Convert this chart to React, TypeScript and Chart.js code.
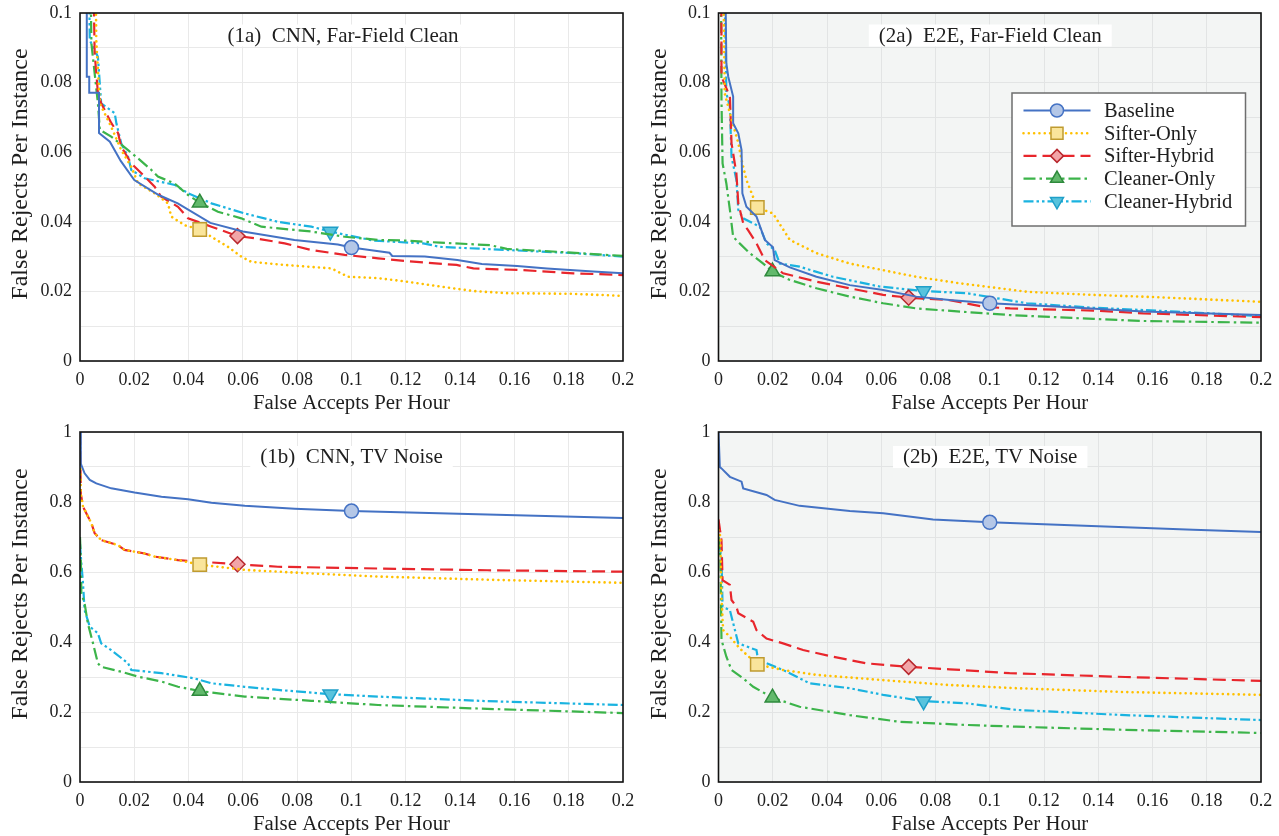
import React, { useEffect, useRef } from 'react';
import { Chart, registerables } from 'chart.js';

Chart.register(...registerables);

// ---------------- tick labels & names ----------------
const seriesNames = ['Baseline', 'Sifter-Only', 'Sifter-Hybrid', 'Cleaner-Only', 'Cleaner-Hybrid'];
const xTickLabels = ['0', '0.02', '0.04', '0.06', '0.08', '0.1', '0.12', '0.14', '0.16', '0.18', '0.2'];
const yTickLabelsFar = ['0', '0.02', '0.04', '0.06', '0.08', '0.1'];
const yTickLabelsTV = ['0', '0.2', '0.4', '0.6', '0.8', '1'];
const panelTitles = ['(1a)  CNN, Far-Field Clean', '(2a)  E2E, Far-Field Clean', '(1b)  CNN, TV Noise', '(2b)  E2E, TV Noise'];
const xAxisTitle = 'False Accepts Per Hour';
const yAxisTitle = 'False Rejects Per Instance';

// ---------------- (1a) CNN, Far-Field Clean ----------------
const cnnFarBaselineX = [0.0025, 0.0025, 0.0034, 0.0034, 0.007, 0.007, 0.011, 0.015, 0.02, 0.029, 0.036, 0.048, 0.06, 0.079, 0.095, 0.1, 0.106, 0.114, 0.115, 0.127, 0.139, 0.148, 0.161, 0.172, 0.189, 0.2];
const cnnFarBaselineY = [0.13, 0.0817, 0.0817, 0.0771, 0.0771, 0.0655, 0.063, 0.0575, 0.052, 0.0477, 0.0453, 0.0397, 0.0372, 0.0348, 0.0335, 0.0326, 0.032, 0.0311, 0.0302, 0.03, 0.029, 0.0279, 0.0273, 0.0266, 0.0257, 0.0252];
const cnnFarSifterOnlyX = [0.0055, 0.006, 0.0073, 0.0115, 0.0152, 0.0189, 0.0214, 0.0275, 0.0324, 0.0336, 0.0386, 0.0441, 0.0484, 0.0545, 0.0594, 0.0631, 0.0754, 0.0926, 0.0987, 0.1098, 0.1203, 0.1326, 0.1449, 0.1572, 0.1816, 0.2];
const cnnFarSifterOnlyY = [0.13, 0.092, 0.074, 0.0673, 0.0606, 0.0558, 0.051, 0.0482, 0.0453, 0.0415, 0.039, 0.0378, 0.0357, 0.0328, 0.03, 0.0285, 0.0276, 0.0266, 0.0242, 0.0238, 0.0228, 0.0214, 0.0201, 0.0195, 0.0193, 0.0187];
const cnnFarSifterHybridX = [0.0045, 0.0054, 0.0066, 0.0078, 0.0115, 0.014, 0.0152, 0.0189, 0.0238, 0.0275, 0.0299, 0.0361, 0.0398, 0.0484, 0.058, 0.0643, 0.0754, 0.0852, 0.0975, 0.1098, 0.1203, 0.1387, 0.1449, 0.1633, 0.1817, 0.2];
const cnnFarSifterHybridY = [0.13, 0.0885, 0.077, 0.0741, 0.0684, 0.0655, 0.0616, 0.0568, 0.053, 0.0501, 0.0472, 0.0443, 0.041, 0.0386, 0.0359, 0.0353, 0.0338, 0.0319, 0.0305, 0.0295, 0.0287, 0.0276, 0.0266, 0.0261, 0.0252, 0.0247];
const cnnFarCleanerOnlyX = [0.0035, 0.0042, 0.0066, 0.0073, 0.0115, 0.0177, 0.0214, 0.0263, 0.0287, 0.0349, 0.0398, 0.0441, 0.0508, 0.0594, 0.0668, 0.0852, 0.0975, 0.1098, 0.1203, 0.1326, 0.151, 0.1572, 0.1756, 0.2];
const cnnFarCleanerOnlyY = [0.13, 0.0913, 0.074, 0.0664, 0.0645, 0.0606, 0.0582, 0.0549, 0.053, 0.051, 0.0477, 0.0455, 0.0429, 0.041, 0.0386, 0.0372, 0.0357, 0.0348, 0.0346, 0.034, 0.0333, 0.0322, 0.0314, 0.0302];
const cnnFarCleanerHybridX = [0.003, 0.0036, 0.0066, 0.0078, 0.0128, 0.0134, 0.0152, 0.0177, 0.0189, 0.0238, 0.0349, 0.0398, 0.0484, 0.0607, 0.0729, 0.0852, 0.0922, 0.108, 0.1264, 0.1326, 0.1572, 0.1817, 0.2];
const cnnFarCleanerHybridY = [0.13, 0.0922, 0.0874, 0.074, 0.0712, 0.0683, 0.0625, 0.0587, 0.0549, 0.0525, 0.0506, 0.0482, 0.0453, 0.0424, 0.04, 0.0386, 0.0372, 0.0346, 0.0338, 0.0328, 0.0319, 0.031, 0.03];
const cnnFarMarkerIndex = [15, 11, 14, 11, 16];

// ---------------- (2a) E2E, Far-Field Clean ----------------
const e2eFarBaselineX = [0.0022, 0.0029, 0.0036, 0.0054, 0.0054, 0.0073, 0.0085, 0.0088, 0.0103, 0.014, 0.0158, 0.0171, 0.0201, 0.0207, 0.0263, 0.0361, 0.0484, 0.0607, 0.0729, 0.0852, 0.1, 0.126, 0.1566, 0.2];
const e2eFarBaselineY = [0.13, 0.0855, 0.0817, 0.076, 0.0683, 0.0654, 0.0606, 0.0482, 0.0443, 0.0415, 0.0376, 0.0348, 0.0327, 0.029, 0.0269, 0.0242, 0.0218, 0.0204, 0.0185, 0.0175, 0.0166, 0.0156, 0.0142, 0.0132];
const e2eFarSifterOnlyX = [0.0015, 0.0023, 0.0042, 0.0073, 0.0085, 0.0103, 0.0143, 0.0201, 0.0263, 0.0361, 0.0484, 0.0607, 0.0729, 0.0891, 0.1137, 0.1382, 0.1628, 0.2];
const e2eFarSifterOnlyY = [0.13, 0.0769, 0.0712, 0.0626, 0.0578, 0.052, 0.0441, 0.0424, 0.0348, 0.031, 0.028, 0.0261, 0.0242, 0.0223, 0.0199, 0.019, 0.0183, 0.017];
const e2eFarSifterHybridX = [0.001, 0.0011, 0.0042, 0.0048, 0.0066, 0.0073, 0.0091, 0.0109, 0.014, 0.0171, 0.0238, 0.0361, 0.0484, 0.0607, 0.0701, 0.0852, 0.0975, 0.1075, 0.1382, 0.1566, 0.2];
const e2eFarSifterHybridY = [0.13, 0.0817, 0.076, 0.0626, 0.0539, 0.0453, 0.0396, 0.0376, 0.0338, 0.029, 0.0252, 0.0228, 0.0209, 0.019, 0.0182, 0.0175, 0.0156, 0.0151, 0.0145, 0.0137, 0.0126];
const e2eFarCleanerOnlyX = [0.0008, 0.0011, 0.0015, 0.0029, 0.0042, 0.0054, 0.0078, 0.0115, 0.0165, 0.0199, 0.0263, 0.0361, 0.0484, 0.0607, 0.0729, 0.0891, 0.1075, 0.1382, 0.1566, 0.2];
const e2eFarCleanerOnlyY = [0.13, 0.075, 0.0568, 0.051, 0.0434, 0.0357, 0.0338, 0.031, 0.028, 0.0257, 0.0233, 0.0209, 0.0185, 0.0166, 0.0151, 0.0142, 0.0132, 0.0121, 0.0115, 0.011];
const e2eFarCleanerHybridX = [0.0018, 0.0029, 0.0042, 0.0048, 0.0066, 0.0073, 0.0091, 0.0152, 0.0177, 0.0207, 0.0226, 0.0299, 0.0422, 0.0594, 0.0756, 0.0913, 0.1137, 0.1382, 0.1689, 0.2];
const e2eFarCleanerHybridY = [0.13, 0.0769, 0.0731, 0.0587, 0.052, 0.0434, 0.041, 0.0386, 0.0338, 0.0319, 0.028, 0.0271, 0.0242, 0.0214, 0.0201, 0.0195, 0.0166, 0.0153, 0.0142, 0.0129];
const e2eFarMarkerIndex = [20, 6, 14, 9, 14];

// ---------------- (1b) CNN, TV Noise ----------------
const cnnTvBaselineX = [0, 0.0003, 0.0005, 0.0017, 0.0036, 0.006, 0.0115, 0.0201, 0.03, 0.0398, 0.0484, 0.0607, 0.0791, 0.1, 0.125, 0.15, 0.175, 0.2];
const cnnTvBaselineY = [1, 0.91, 0.905, 0.882, 0.863, 0.853, 0.839, 0.827, 0.815, 0.808, 0.798, 0.789, 0.781, 0.774, 0.769, 0.764, 0.759, 0.754];
const cnnTvSifterOnlyX = [0, 0.0003, 0.0005, 0.0011, 0.0042, 0.0054, 0.0078, 0.014, 0.0164, 0.0238, 0.0275, 0.0361, 0.0441, 0.0607, 0.0852, 0.1098, 0.15, 0.2];
const cnnTvSifterOnlyY = [1, 0.82, 0.815, 0.787, 0.739, 0.711, 0.691, 0.677, 0.663, 0.653, 0.644, 0.634, 0.621, 0.606, 0.596, 0.587, 0.578, 0.569];
const cnnTvSifterHybridX = [0, 0.0003, 0.0005, 0.0011, 0.0042, 0.0054, 0.0078, 0.014, 0.0164, 0.0238, 0.0275, 0.0361, 0.058, 0.0729, 0.1098, 0.15, 0.2];
const cnnTvSifterHybridY = [1, 0.82, 0.815, 0.787, 0.739, 0.711, 0.691, 0.677, 0.663, 0.653, 0.644, 0.634, 0.622, 0.615, 0.61, 0.605, 0.601];
const cnnTvCleanerOnlyX = [0, 0.0003, 0.0005, 0.0017, 0.0029, 0.0048, 0.0066, 0.0078, 0.0152, 0.0214, 0.03, 0.0361, 0.0441, 0.0607, 0.0852, 0.1098, 0.15, 0.2];
const cnnTvCleanerOnlyY = [0.7, 0.64, 0.539, 0.51, 0.453, 0.396, 0.339, 0.329, 0.315, 0.301, 0.287, 0.272, 0.26, 0.244, 0.232, 0.22, 0.209, 0.197];
const cnnTvCleanerHybridX = [0, 0.0005, 0.0011, 0.0017, 0.0036, 0.0066, 0.0078, 0.0115, 0.0177, 0.0189, 0.03, 0.0422, 0.0484, 0.0607, 0.0729, 0.0922, 0.1098, 0.15, 0.2];
const cnnTvCleanerHybridY = [0.68, 0.625, 0.568, 0.491, 0.444, 0.425, 0.396, 0.377, 0.339, 0.32, 0.311, 0.296, 0.282, 0.272, 0.263, 0.251, 0.244, 0.231, 0.22];
const cnnTvMarkerIndex = [13, 12, 12, 12, 15];

// ---------------- (2b) E2E, TV Noise ----------------
const e2eTvBaselineX = [0, 0.0005, 0.0011, 0.0042, 0.0085, 0.0091, 0.0177, 0.0207, 0.0299, 0.0484, 0.0607, 0.0791, 0.1, 0.125, 0.15, 0.175, 0.2];
const e2eTvBaselineY = [1, 0.9, 0.896, 0.872, 0.858, 0.839, 0.82, 0.806, 0.789, 0.774, 0.768, 0.75, 0.742, 0.735, 0.728, 0.721, 0.714];
const e2eTvSifterOnlyX = [0, 0.0007, 0.0011, 0.0017, 0.0042, 0.0078, 0.0143, 0.0238, 0.0361, 0.0607, 0.0852, 0.1098, 0.15, 0.2];
const e2eTvSifterOnlyY = [0.72, 0.701, 0.53, 0.434, 0.415, 0.382, 0.336, 0.32, 0.306, 0.291, 0.277, 0.268, 0.257, 0.249];
const e2eTvSifterHybridX = [0, 0.0011, 0.0015, 0.0042, 0.0048, 0.0066, 0.0073, 0.0128, 0.014, 0.0177, 0.0238, 0.0312, 0.0422, 0.0545, 0.0701, 0.0852, 0.1073, 0.15, 0.2];
const e2eTvSifterHybridY = [0.75, 0.691, 0.577, 0.563, 0.52, 0.501, 0.482, 0.458, 0.434, 0.41, 0.396, 0.377, 0.358, 0.339, 0.329, 0.322, 0.311, 0.3, 0.289];
const e2eTvCleanerOnlyX = [0, 0.0007, 0.0011, 0.0029, 0.0048, 0.0091, 0.0128, 0.0199, 0.0299, 0.0484, 0.0668, 0.0913, 0.1098, 0.15, 0.2];
const e2eTvCleanerOnlyY = [0.7, 0.644, 0.406, 0.358, 0.32, 0.296, 0.272, 0.241, 0.215, 0.191, 0.172, 0.163, 0.158, 0.149, 0.14];
const e2eTvCleanerHybridX = [0, 0.0011, 0.0015, 0.0042, 0.0073, 0.014, 0.0146, 0.0238, 0.0336, 0.0484, 0.0607, 0.0756, 0.0913, 0.1098, 0.15, 0.2];
const e2eTvCleanerHybridY = [0.68, 0.644, 0.501, 0.491, 0.396, 0.377, 0.349, 0.32, 0.282, 0.268, 0.249, 0.231, 0.225, 0.206, 0.191, 0.177];
const e2eTvMarkerIndex = [12, 6, 14, 7, 11];

// ---------------- styles ----------------
type SeriesStyle = {
  color: string; dash: number[]; cap: CanvasLineCap; width: number;
  marker: string; rotation: number; radius: number; legendRadius: number; fill: string; stroke: string;
};
const seriesStyles: SeriesStyle[] = [
  { color: '#4472c4', dash: [], cap: 'butt', width: 2, marker: 'circle', rotation: 0, radius: 7, legendRadius: 6.5, fill: '#b4c7e7', stroke: '#4472c4' },
  { color: '#ffc000', dash: [0.01, 5.3], cap: 'round', width: 2.6, marker: 'rect', rotation: 0, radius: 9.5, legendRadius: 8.5, fill: '#fae59b', stroke: '#bf9b30' },
  { color: '#e8262c', dash: [13, 6], cap: 'butt', width: 2.2, marker: 'rectRot', rotation: 0, radius: 7.5, legendRadius: 6.5, fill: '#f2a5a8', stroke: '#b8282e' },
  { color: '#3cb44a', dash: [12, 4, 2.5, 4], cap: 'butt', width: 2.2, marker: 'triangle', rotation: 0, radius: 8.5, legendRadius: 7.5, fill: '#62b96c', stroke: '#2e8a3c' },
  { color: '#1ab3e0', dash: [10, 3, 2.5, 3, 2.5, 3], cap: 'butt', width: 2.2, marker: 'triangle', rotation: 180, radius: 8.5, legendRadius: 7.5, fill: '#58c3dd', stroke: '#1f9fc8' },
];

const FONT = '"Liberation Serif", "Times New Roman", Times, serif';
const TEXT = '#1e1e1e';

type PanelSpec = {
  title: string;
  xs: number[][]; ys: number[][]; markers: number[];
  yMax: number; yStep: number; yLabels: string[];
  shaded: boolean; legend: boolean;
  titleDx: number; titleDy: number;
  pos: { left: number; top: number; w: number; h: number };
  area: { left: number; top: number; right: number; bottom: number };
};

const panels: PanelSpec[] = [
  {
    title: panelTitles[0],
    xs: [cnnFarBaselineX, cnnFarSifterOnlyX, cnnFarSifterHybridX, cnnFarCleanerOnlyX, cnnFarCleanerHybridX],
    ys: [cnnFarBaselineY, cnnFarSifterOnlyY, cnnFarSifterHybridY, cnnFarCleanerOnlyY, cnnFarCleanerHybridY],
    markers: cnnFarMarkerIndex, yMax: 0.1, yStep: 0.01, yLabels: yTickLabelsFar, shaded: false, legend: false,
    titleDx: -8.5, titleDy: 23,
    pos: { left: 0, top: 0, w: 640, h: 418 }, area: { left: 80, top: 13, right: 623, bottom: 361 },
  },
  {
    title: panelTitles[1],
    xs: [e2eFarBaselineX, e2eFarSifterOnlyX, e2eFarSifterHybridX, e2eFarCleanerOnlyX, e2eFarCleanerHybridX],
    ys: [e2eFarBaselineY, e2eFarSifterOnlyY, e2eFarSifterHybridY, e2eFarCleanerOnlyY, e2eFarCleanerHybridY],
    markers: e2eFarMarkerIndex, yMax: 0.1, yStep: 0.01, yLabels: yTickLabelsFar, shaded: true, legend: true,
    titleDx: 0.5, titleDy: 23,
    pos: { left: 640, top: 0, w: 639, h: 418 }, area: { left: 78.5, top: 13, right: 621, bottom: 361 },
  },
  {
    title: panelTitles[2],
    xs: [cnnTvBaselineX, cnnTvSifterOnlyX, cnnTvSifterHybridX, cnnTvCleanerOnlyX, cnnTvCleanerHybridX],
    ys: [cnnTvBaselineY, cnnTvSifterOnlyY, cnnTvSifterHybridY, cnnTvCleanerOnlyY, cnnTvCleanerHybridY],
    markers: cnnTvMarkerIndex, yMax: 1, yStep: 0.1, yLabels: yTickLabelsTV, shaded: false, legend: false,
    titleDx: 0, titleDy: 25.5,
    pos: { left: 0, top: 418, w: 640, h: 418 }, area: { left: 80, top: 14, right: 623, bottom: 364 },
  },
  {
    title: panelTitles[3],
    xs: [e2eTvBaselineX, e2eTvSifterOnlyX, e2eTvSifterHybridX, e2eTvCleanerOnlyX, e2eTvCleanerHybridX],
    ys: [e2eTvBaselineY, e2eTvSifterOnlyY, e2eTvSifterHybridY, e2eTvCleanerOnlyY, e2eTvCleanerHybridY],
    markers: e2eTvMarkerIndex, yMax: 1, yStep: 0.1, yLabels: yTickLabelsTV, shaded: true, legend: false,
    titleDx: 0.5, titleDy: 25.5,
    pos: { left: 640, top: 418, w: 639, h: 418 }, area: { left: 78.5, top: 14, right: 621, bottom: 364 },
  },
];

function drawMarker(ctx: CanvasRenderingContext2D, s: SeriesStyle, x: number, y: number, r: number) {
  ctx.save();
  ctx.setLineDash([]);
  ctx.fillStyle = s.fill;
  ctx.strokeStyle = s.stroke;
  ctx.lineWidth = 1.5;
  ctx.beginPath();
  if (s.marker === 'circle') {
    ctx.arc(x, y, r, 0, Math.PI * 2);
  } else if (s.marker === 'rect') {
    const h = r * Math.SQRT1_2;
    ctx.rect(x - h, y - h, 2 * h, 2 * h);
  } else if (s.marker === 'rectRot') {
    ctx.moveTo(x, y - r); ctx.lineTo(x + r, y); ctx.lineTo(x, y + r); ctx.lineTo(x - r, y); ctx.closePath();
  } else {
    let rad = (s.rotation * Math.PI) / 180;
    ctx.moveTo(x + Math.sin(rad) * r, y - Math.cos(rad) * r);
    rad += (2 * Math.PI) / 3;
    ctx.lineTo(x + Math.sin(rad) * r, y - Math.cos(rad) * r);
    rad += (2 * Math.PI) / 3;
    ctx.lineTo(x + Math.sin(rad) * r, y - Math.cos(rad) * r);
    ctx.closePath();
  }
  ctx.fill();
  ctx.stroke();
  ctx.restore();
}

function makeDecoPlugin(p: PanelSpec) {
  return {
    id: 'deco',
    beforeDraw(chart: any) {
      const { ctx, chartArea: a } = chart;
      ctx.save();
      ctx.fillStyle = '#ffffff';
      ctx.fillRect(0, 0, chart.width, chart.height);
      if (p.shaded) {
        ctx.fillStyle = '#f3f5f4';
        ctx.fillRect(a.left, a.top, a.right - a.left, a.bottom - a.top);
      }
      ctx.restore();
    },
    beforeDatasetsDraw(chart: any) {
      const { ctx, chartArea: a } = chart;
      ctx.save();
      ctx.font = `21px ${FONT}`;
      const tw = ctx.measureText(p.title).width;
      const cx = (a.left + a.right) / 2 + p.titleDx;
      const cy = a.top + p.titleDy;
      ctx.fillStyle = '#ffffff';
      ctx.fillRect(cx - tw / 2 - 10, cy - 11.5, tw + 20, 22);
      ctx.fillStyle = TEXT;
      ctx.textAlign = 'center';
      ctx.textBaseline = 'middle';
      ctx.fillText(p.title, cx, cy);
      ctx.restore();
    },
    afterDraw(chart: any) {
      const { ctx, chartArea: a } = chart;
      ctx.save();
      // frame
      ctx.strokeStyle = '#111';
      ctx.lineWidth = 1.6;
      ctx.setLineDash([]);
      ctx.strokeRect(a.left, a.top, a.right - a.left, a.bottom - a.top);
      // axis titles
      ctx.fillStyle = TEXT;
      ctx.textAlign = 'center';
      ctx.textBaseline = 'middle';
      ctx.font = `20.8px ${FONT}`;
      ctx.fillText(xAxisTitle, (a.left + a.right) / 2, a.bottom + 43);
      ctx.save();
      ctx.translate(a.left - 59, (a.top + a.bottom) / 2 - 13);
      ctx.rotate(-Math.PI / 2);
      ctx.font = `24px ${FONT}`;
      ctx.fillText(yAxisTitle, 0, 0);
      ctx.restore();
      // legend
      if (p.legend) {
        const bx = a.left + 293.5, by = a.top + 80, bw = 233.5, bh = 133;
        ctx.fillStyle = '#ffffff';
        ctx.fillRect(bx, by, bw, bh);
        ctx.strokeStyle = '#6e6e6e';
        ctx.lineWidth = 1.5;
        ctx.strokeRect(bx, by, bw, bh);
        seriesNames.forEach((name, i) => {
          const s = seriesStyles[i];
          const ry = by + 17.5 + i * 22.7;
          ctx.save();
          ctx.strokeStyle = s.color;
          ctx.lineWidth = s.width;
          ctx.lineCap = s.cap;
          ctx.setLineDash(s.dash);
          ctx.beginPath();
          ctx.moveTo(bx + 11.5, ry);
          ctx.lineTo(bx + 78.5, ry);
          ctx.stroke();
          ctx.restore();
          drawMarker(ctx, s, bx + 45, ry, s.legendRadius);
          ctx.fillStyle = TEXT;
          ctx.textAlign = 'left';
          ctx.textBaseline = 'middle';
          ctx.font = `20.5px ${FONT}`;
          ctx.fillText(name, bx + 92, ry + 1);
        });
      }
      ctx.restore();
    },
  };
}

function Panel({ spec }: { spec: PanelSpec }) {
  const ref = useRef<HTMLCanvasElement | null>(null);
  useEffect(() => {
    if (!ref.current) return;
    const p = spec;
    const gridColor = p.shaded ? '#e2e4e4' : '#e9e9e9';
    const datasets = seriesNames.map((name, si) => {
      const s = seriesStyles[si];
      const mi = p.markers[si];
      return {
        label: name,
        data: p.xs[si].map((x, i) => ({ x, y: p.ys[si][i] })),
        borderColor: s.color,
        borderWidth: s.width,
        borderDash: s.dash,
        borderCapStyle: s.cap,
        backgroundColor: s.fill,
        fill: false,
        tension: 0,
        clip: 0,
        pointStyle: s.marker,
        pointRotation: s.rotation,
        pointRadius: (c: any) => (c.dataIndex === mi ? s.radius : 0),
        pointHoverRadius: (c: any) => (c.dataIndex === mi ? s.radius : 0),
        pointBackgroundColor: s.fill,
        pointBorderColor: s.stroke,
        pointBorderWidth: 1.5,
      };
    });
    const chart = new Chart(ref.current, {
      type: 'line',
      data: { datasets: datasets as any },
      options: {
        responsive: false,
        animation: false,
        devicePixelRatio: 1,
        events: [],
        layout: { padding: { left: 0, top: p.area.top, right: p.pos.w - p.area.right, bottom: 0 } },
        plugins: { legend: { display: false }, tooltip: { enabled: false }, title: { display: false } },
        scales: {
          x: {
            type: 'linear', min: 0, max: 0.2,
            afterFit: (sc: any) => {
              sc.height = p.pos.h - p.area.bottom;
              sc.paddingLeft = 0; sc.paddingRight = 0;
            },
            grid: { color: gridColor, lineWidth: 1, drawTicks: false },
            border: { display: false },
            ticks: {
              stepSize: 0.02, autoSkip: false, maxRotation: 0, minRotation: 0, padding: 8,
              color: TEXT, font: { family: FONT, size: 18 },
              callback: (_v: any, i: number) => xTickLabels[i],
            },
          },
          y: {
            type: 'linear', min: 0, max: p.yMax,
            afterFit: (sc: any) => {
              sc.width = p.area.left;
              sc.paddingTop = 0; sc.paddingBottom = 0;
            },
            grid: { color: gridColor, lineWidth: 1, drawTicks: false },
            border: { display: false },
            ticks: {
              stepSize: p.yStep, autoSkip: false, padding: 8,
              color: TEXT, font: { family: FONT, size: 18 },
              callback: (_v: any, i: number) => (i % 2 === 0 ? p.yLabels[i / 2] : ''),
            },
          },
        },
      } as any,
      plugins: [makeDecoPlugin(p)],
    });
    return () => chart.destroy();
  }, [spec]);
  return (
    <canvas
      ref={ref}
      width={spec.pos.w}
      height={spec.pos.h}
      style={{ position: 'absolute', left: spec.pos.left, top: spec.pos.top, width: spec.pos.w, height: spec.pos.h }}
    />
  );
}

export default function App() {
  return (
    <div style={{ position: 'fixed', left: 0, top: 0, width: 1279, height: 836, background: '#fff', overflow: 'hidden' }}>
      {panels.map((p, i) => (
        <Panel key={i} spec={p} />
      ))}
    </div>
  );
}
